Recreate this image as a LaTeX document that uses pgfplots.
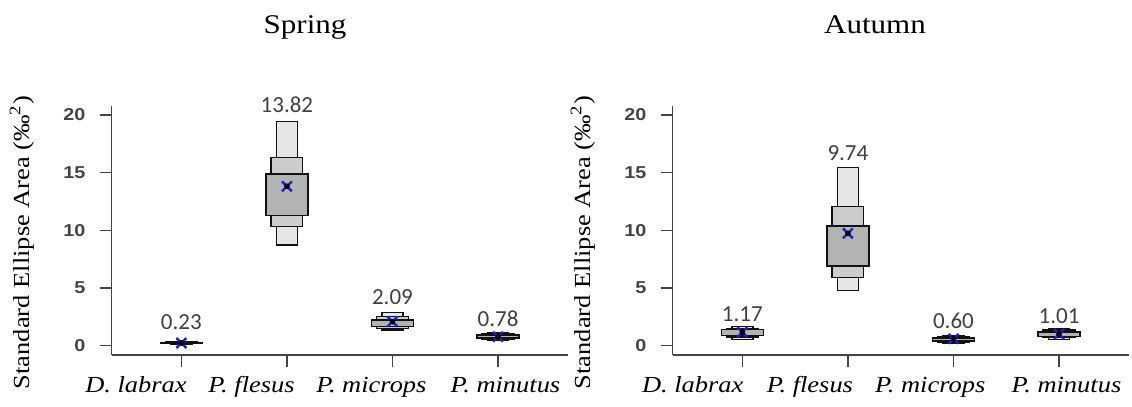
\documentclass[border=0pt]{standalone}
\usepackage{fontspec}
\setmainfont[FakeStretch=1.15]{Liberation Serif}
\newfontfamily\ticksans[FakeStretch=1.15]{Liberation Sans}
\newfontfamily\valfont{Carlito}
\usepackage{pgfplots}
\pgfplotsset{compat=1.18}
\usepgfplotslibrary{statistics}

\definecolor{axisgray}{HTML}{444444}
\definecolor{edge}{HTML}{111111}
\definecolor{c95}{HTML}{E6E6E6}
\definecolor{c75}{HTML}{CCCCCC}
\definecolor{c50}{HTML}{B3B3B3}
\definecolor{meanblue}{HTML}{1E1ED2}
\definecolor{lblgray}{HTML}{404040}

% one species: #1 position, #2-#3 95% interval, #4-#5 75%, #6-#7 50%,
% #8 mean (also printed), #9 height of the printed value
\newcommand{\sea}[9]{%
  \addplot[fill=c95, draw=edge, line width=0.7pt,
    boxplot prepared={draw direction=y, draw position=#1, box extend=0.2,
      whisker extend=0,
      lower whisker=#2, lower quartile=#2, median=#2,
      upper quartile=#3, upper whisker=#3}] coordinates {};
  \addplot[fill=c75, draw=edge, line width=0.7pt,
    boxplot prepared={draw direction=y, draw position=#1, box extend=0.3,
      whisker extend=0,
      lower whisker=#4, lower quartile=#4, median=#4,
      upper quartile=#5, upper whisker=#5}] coordinates {};
  \addplot[fill=c50, draw=edge, line width=0.7pt,
    boxplot prepared={draw direction=y, draw position=#1, box extend=0.4,
      whisker extend=0,
      lower whisker=#6, lower quartile=#6, median=#6,
      upper quartile=#7, upper whisker=#7}] coordinates {};
  \addplot[only marks, mark=x, mark size=3.5pt, line width=1.2pt, color=meanblue]
    coordinates {(#1,#8)};
  \addplot[only marks, mark=*, mark size=1.2pt, black] coordinates {(#1,#8)};
  \node[font=\valfont\fontsize{11.5}{13}\selectfont, text=lblgray, anchor=base]
    at (axis cs:#1,#9) {#8};
  % tick under the species (the axis' own x ticks do not show here)
  \draw[axisgray, line width=0.65pt] (axis cs:#1,-0.8) -- (axis cs:#1,-1.75);
}

% species names sit below the axis, a little off their ticks as in the original
\newcommand{\catlabel}[2]{%
  \node[font=\fontsize{11.5}{13}\selectfont\itshape, anchor=base, yshift=-19pt]
    at (axis cs:#1,-0.8) {#2};
}

\pgfplotsset{sea axis/.style={
  scale only axis, width=228pt, height=124.55pt,
  xmin=-0.66, xmax=3.66, ymin=-0.8, ymax=20.8,
  axis x line*=bottom, axis y line*=left,
  axis line style={draw=axisgray, line width=0.65pt},
  tick style={draw=axisgray, line width=0.65pt},
  tick align=outside, major tick length=6pt,
  xtick={0,1,2,3}, xticklabels={},
  ytick={0,5,10,15,20},
  /pgf/number format/assume math mode=true,
  yticklabel style={font=\ticksans\bfseries\fontsize{8.6}{10}\selectfont, text=axisgray, xshift=-3.6pt},
  ylabel={Standard Ellipse Area (‰\textsuperscript{2})},
  ylabel style={font=\fontsize{11.5}{13}\selectfont, at={(axis description cs:-0.197,0.451)}, anchor=center},
  every axis title shift=0pt,
  title style={font=\fontsize{13.5}{16}\selectfont, anchor=base},
  clip=false,
}}

\begin{document}
\begin{tikzpicture}
\useasboundingbox (0,0) rectangle (566pt,203.5pt);

\begin{axis}[sea axis, at={(55.85pt,26.05pt)}, anchor=south west,
  title={Spring}, title style={at={(axis description cs:0.424,1.292)}}]
\sea{0}{0.14}{0.36}{0.17}{0.31}{0.19}{0.27}{0.23}{1.37}
\sea{1}{8.73}{19.43}{10.32}{16.31}{11.28}{14.89}{13.82}{20.2}
\sea{2}{1.36}{2.90}{1.51}{2.52}{1.65}{2.23}{2.09}{3.53}
\sea{3}{0.50}{1.10}{0.58}{1.00}{0.65}{0.92}{0.78}{1.65}
\catlabel{-0.43}{D. labrax}
\catlabel{0.665}{P. flesus}
\catlabel{1.80}{P. microps}
\catlabel{3.07}{P. minutus}
\end{axis}

\begin{axis}[sea axis, at={(336.35pt,26.05pt)}, anchor=south west,
  title={Autumn}, title style={at={(axis description cs:0.4436,1.292)}}]
\sea{0}{0.55}{1.65}{0.75}{1.50}{0.90}{1.38}{1.17}{2.08}
\sea{1}{4.77}{15.44}{5.93}{12.06}{6.91}{10.38}{9.74}{16.05}
\sea{2}{0.20}{0.85}{0.30}{0.75}{0.40}{0.68}{0.60}{1.50}
\sea{3}{0.55}{1.50}{0.70}{1.35}{0.80}{1.20}{1.01}{1.94}
\catlabel{-0.47}{D. labrax}
\catlabel{0.64}{P. flesus}
\catlabel{1.78}{P. microps}
\catlabel{3.07}{P. minutus}
\end{axis}
\end{tikzpicture}
\end{document}
